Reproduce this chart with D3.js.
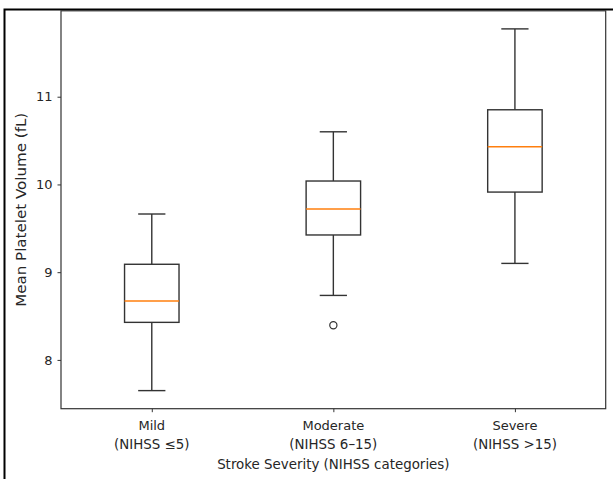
<!DOCTYPE html>
<html>
<head>
<meta charset="utf-8">
<script src="https://cdn.jsdelivr.net/npm/d3@7"></script>
<style>
  body { margin: 0; background: #fff; }
  text { font-family: "DejaVu Sans", sans-serif; fill: #262626; }
</style>
</head>
<body>
<svg id="chart" width="613" height="479"></svg>
<script>
// categories, two-line tick labels
var groups = ["Mild", "Moderate", "Severe"];
var subLabels = ["(NIHSS \u22645)", "(NIHSS 6\u201315)", "(NIHSS >15)"];

// box statistics
var whiskerLow = [7.65, 8.735, 9.10];
var q1 = [8.428, 9.424, 9.913];
var median = [8.672, 9.72, 10.43];
var q3 = [9.09, 10.039, 10.851];
var whiskerHigh = [9.663, 10.60, 11.773];
var outliers = [[], [8.395], []];

var yTicks = [8, 9, 10, 11];

var svg = d3.select("#chart"),
	margin = {top : 10.8, right : 7.3, bottom : 70.3, left : 61},
	width = +svg.attr("width") - margin.left - margin.right,
	height = +svg.attr("height") - margin.top - margin.bottom;

var lineColor = "#333";

// matplotlib-style 5% padding around the data
var lo = d3.min(whiskerLow.concat(d3.merge(outliers))),
	hi = d3.max(whiskerHigh.concat(d3.merge(outliers))),
	pad = (hi - lo) * 0.05;

var y = d3.scaleLinear()
	.domain([lo - pad, hi + pad])
	.range([margin.top + height, margin.top]);

var x = d3.scaleLinear()
	.domain([0.5, groups.length + 0.5])
	.range([margin.left, margin.left + width]);

var boxW = 0.3, capW = 0.15;

var data = groups.map(function(g, i) {
	return {name: g, sub: subLabels[i], pos: i + 1, lo: whiskerLow[i], q1: q1[i],
		med: median[i], q3: q3[i], hi: whiskerHigh[i], out: outliers[i]};
});

// outer screenshot border
svg.append("path")
	.attr("d", "M4.5,479V9.5H613")
	.attr("fill", "none")
	.attr("stroke", "#000")
	.attr("stroke-width", 2);

// axes
var yAxis = d3.axisLeft(y).tickValues(yTicks).tickSize(3.5).tickPadding(5).tickFormat(d3.format("d"));
var gy = svg.append("g")
	.attr("transform", "translate(" + margin.left + ",0)")
	.call(yAxis);
gy.select(".domain").remove();
gy.selectAll("line").attr("stroke", lineColor).attr("stroke-width", 1);
gy.selectAll("text").attr("font-size", "13px").attr("fill", "#262626");

var xAxis = d3.axisBottom(x).tickValues(data.map(function(d) { return d.pos; })).tickSize(3.5).tickFormat("");
var gx = svg.append("g")
	.attr("transform", "translate(0," + (margin.top + height) + ")")
	.call(xAxis);
gx.select(".domain").remove();
gx.selectAll("line").attr("stroke", lineColor).attr("stroke-width", 1);

data.forEach(function(d) {
	svg.append("text")
		.attr("x", x(d.pos))
		.attr("y", 430)
		.attr("text-anchor", "middle")
		.attr("font-size", "13px")
		.text(d.name);
	svg.append("text")
		.attr("x", x(d.pos))
		.attr("y", 448.5)
		.attr("text-anchor", "middle")
		.attr("font-size", "13.4px")
		.text(d.sub);
});

// plot frame
svg.append("rect")
	.attr("x", margin.left)
	.attr("y", margin.top)
	.attr("width", width)
	.attr("height", height)
	.attr("fill", "none")
	.attr("stroke", lineColor)
	.attr("stroke-width", 1.2);

// boxes
var box = svg.selectAll("g.box")
	.data(data)
	.enter()
	.append("g")
	.attr("class", "box")
	.attr("fill", "none")
	.attr("stroke", lineColor)
	.attr("stroke-width", 1.4);

box.append("line")
	.attr("x1", function(d) { return x(d.pos); })
	.attr("x2", function(d) { return x(d.pos); })
	.attr("y1", function(d) { return y(d.lo); })
	.attr("y2", function(d) { return y(d.q1); });

box.append("line")
	.attr("x1", function(d) { return x(d.pos); })
	.attr("x2", function(d) { return x(d.pos); })
	.attr("y1", function(d) { return y(d.q3); })
	.attr("y2", function(d) { return y(d.hi); });

box.append("line")
	.attr("x1", function(d) { return x(d.pos - capW / 2); })
	.attr("x2", function(d) { return x(d.pos + capW / 2); })
	.attr("y1", function(d) { return y(d.lo); })
	.attr("y2", function(d) { return y(d.lo); });

box.append("line")
	.attr("x1", function(d) { return x(d.pos - capW / 2); })
	.attr("x2", function(d) { return x(d.pos + capW / 2); })
	.attr("y1", function(d) { return y(d.hi); })
	.attr("y2", function(d) { return y(d.hi); });

box.append("rect")
	.attr("x", function(d) { return x(d.pos - boxW / 2); })
	.attr("width", function(d) { return x(d.pos + boxW / 2) - x(d.pos - boxW / 2); })
	.attr("y", function(d) { return y(d.q3); })
	.attr("height", function(d) { return y(d.q1) - y(d.q3); });

box.append("line")
	.attr("x1", function(d) { return x(d.pos - boxW / 2); })
	.attr("x2", function(d) { return x(d.pos + boxW / 2); })
	.attr("y1", function(d) { return y(d.med); })
	.attr("y2", function(d) { return y(d.med); })
	.attr("stroke", "#ff7f0e");

box.selectAll("circle")
	.data(function(d) { return d.out.map(function(v) { return {pos: d.pos, v: v}; }); })
	.enter()
	.append("circle")
	.attr("cx", function(d) { return x(d.pos); })
	.attr("cy", function(d) { return y(d.v); })
	.attr("r", 3.6)
	.attr("stroke-width", 1.2);

// axis titles
svg.append("text")
	.attr("x", x(2))
	.attr("y", 468.5)
	.attr("text-anchor", "middle")
	.attr("font-size", "13.4px")
	.text("Stroke Severity (NIHSS categories)");

svg.append("text")
	.attr("transform", "translate(25.5," + (margin.top + height / 2) + ") rotate(-90)")
	.attr("text-anchor", "middle")
	.attr("font-size", "13.7px")
	.attr("textLength", 194)
	.attr("lengthAdjust", "spacingAndGlyphs")
	.text("Mean Platelet Volume (fL)");
</script>
</body>
</html>
